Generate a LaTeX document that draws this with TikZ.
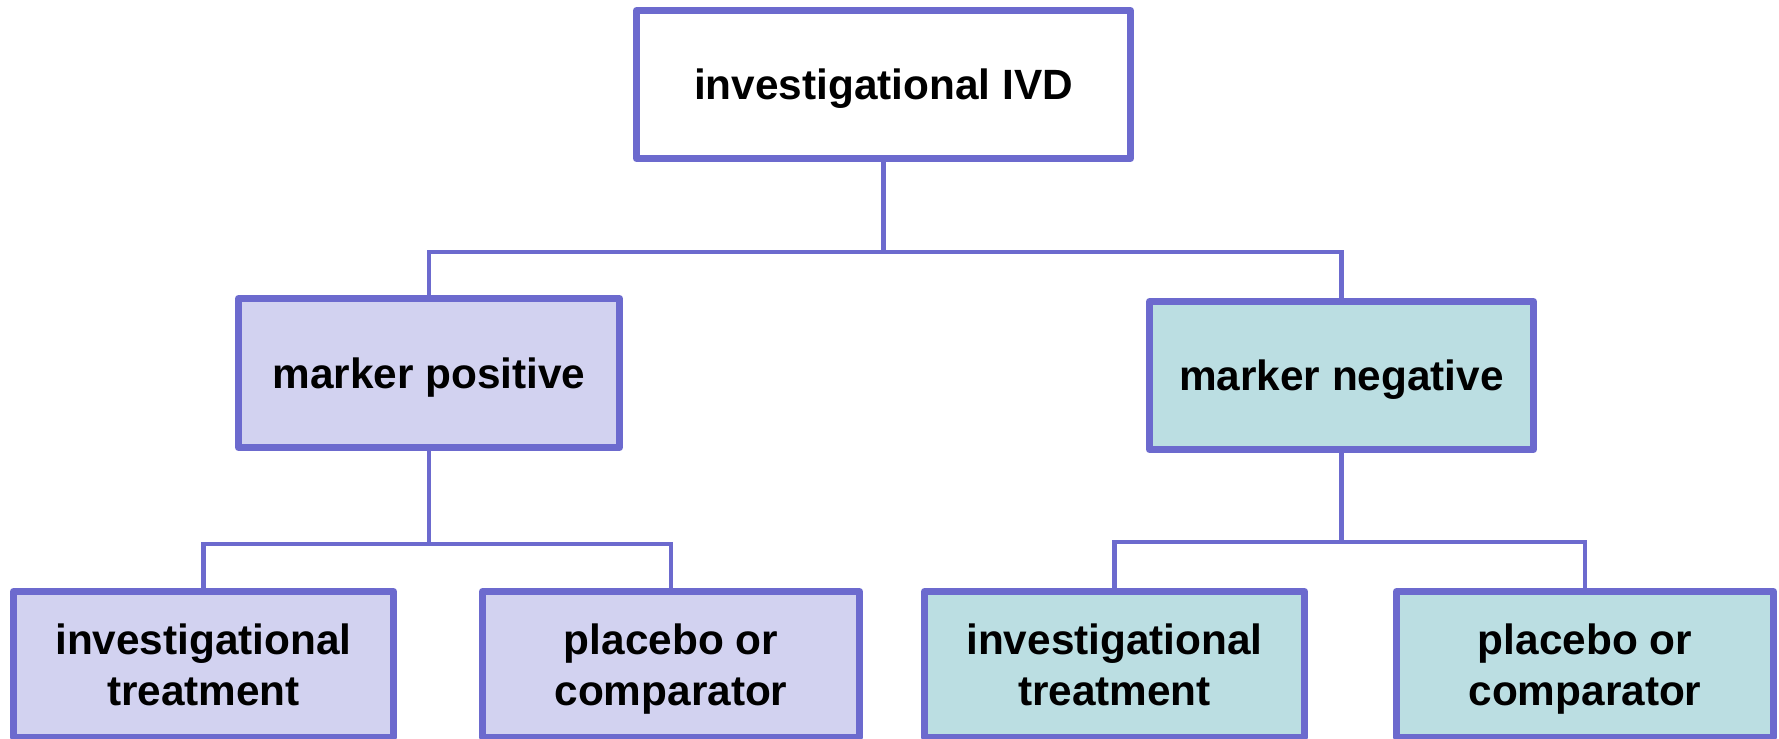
\documentclass[tikz,border=0pt]{standalone}
\usepackage{fontspec}
\setmainfont{Liberation Sans}
\usepackage{xcolor}
\usetikzlibrary{positioning,calc}

\definecolor{edgeblue}{RGB}{108,106,206}
\definecolor{posfill}{RGB}{210,210,240}
\definecolor{negfill}{RGB}{187,222,226}

\begin{document}
\begin{tikzpicture}[
  x=1bp, y=-1bp,
  box/.style    = {draw=edgeblue, line width=7bp, line join=round,
                   minimum width=380bp, minimum height=146bp, inner sep=0pt, text depth=0pt,
                   font=\fontsize{42.5}{51}\selectfont\bfseries, align=center},
  posbox/.style = {box, fill=posfill},
  negbox/.style = {box, fill=negfill},
  link/.style   = {draw=edgeblue, line width=4.5bp}
]
  \useasboundingbox (0,0) rectangle (1779,739);

  \node[box, fill=white, minimum width=494bp, minimum height=148bp] (ivd) at (883.5,84.5) {investigational IVD};
  \node[posbox, minimum width=381bp, minimum height=149bp] (pos) at (429,373)    {marker positive};
  \node[negbox, minimum width=384bp, minimum height=148bp] (neg) at (1341.5,375.5) {marker negative};

  \node[posbox] (posT) at (203.5,664.5) {investigational\\treatment};
  \node[posbox, minimum width=377bp] (posC) at (671,664.5) {placebo or\\comparator};
  \node[negbox] (negT) at (1114.5,664.5) {investigational\\treatment};
  \node[negbox, minimum width=377bp] (negC) at (1585,664.5) {placebo or\\comparator};

  % branch points
  \coordinate (hubtop) at (883.5,252);
  \coordinate (hubpos) at (429,544);
  \coordinate (hubneg) at (1341.5,542);

  \foreach \p/\hub in {ivd/hubtop,pos/hubpos,neg/hubneg}
    \draw[link] (\p.south) -- (\hub);
  \foreach \hub/\a/\b in {hubtop/pos/neg,hubpos/posT/posC,hubneg/negT/negC}
    \draw[link] (\a.north) |- (\hub) -| (\b.north);
\end{tikzpicture}
\end{document}
